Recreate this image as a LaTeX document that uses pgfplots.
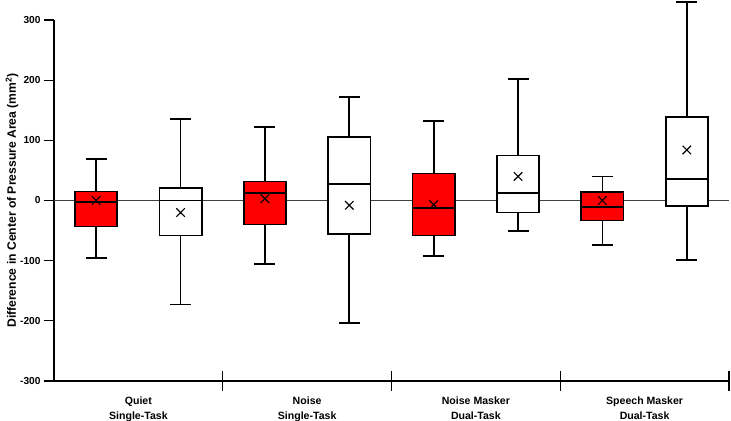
\documentclass[border=0pt]{standalone}
\usepackage{fontspec}
\setmainfont{Liberation Sans}
\usepackage{pgfplots}
\pgfplotsset{compat=1.18}
\usetikzlibrary{calc}

% box: lower quartile to upper quartile; lines: median, whiskers and caps
\pgfplotsset{
  boxst/.style={draw=black,line width=1.7bp},
  linest/.style={black,line width=1.7bp,unbounded coords=jump,mark=none},
}

\begin{document}
\begin{tikzpicture}
\begin{axis}[
  name=a,
  scale only axis,width=675bp,height=361bp,
  xmin=0,xmax=8,ymin=-300,ymax=300,
  clip=false,
  axis x line=bottom,axis y line=left,
  axis line style={-,line width=1.3bp},
  ytick={-300,-200,...,300},
  tick align=outside,major tick length=10bp,
  tick style={black,line width=1.3bp},
  xtick={1,3,5,7},
  xticklabels={Quiet\\Single-Task,Noise\\Single-Task,Noise Masker\\Dual-Task,Speech Masker\\Dual-Task},
  xtick style={draw=none},
  xticklabel style={align=center,font=\bfseries\fontsize{10.6}{15}\selectfont,yshift=-2bp},
  yticklabel style={font=\bfseries\fontsize{10.2}{12}\selectfont},
  /pgf/number format/assume math mode=true,
  ylabel={\bfseries Difference in Center of Pressure Area (mm\textsuperscript{2})},
  ylabel style={font=\fontsize{12.2}{14}\selectfont,at={(axis description cs:0,0.5)},anchor=center,yshift=42bp},
]
\addplot[black!75,line width=1bp,mark=none] coordinates {(0,0) (8,0)};

% Quiet, single-task
\addplot[boxst,fill=red] coordinates {(0.25,-43) (0.75,-43) (0.75,15) (0.25,15)} -- cycle;
\addplot[linest] coordinates {(0.25,-3) (0.75,-3) (nan,nan) (0.5,15) (0.5,69) (nan,nan) (0.375,69) (0.625,69) (nan,nan) (0.5,-43) (0.5,-96) (nan,nan) (0.375,-96) (0.625,-96)};
\addplot[boxst,fill=white] coordinates {(1.25,-58) (1.75,-58) (1.75,20.5) (1.25,20.5)} -- cycle;
\addplot[linest] coordinates {(1.25,0) (1.75,0) (nan,nan) (1.5,20.5) (1.5,136) (nan,nan) (1.375,136) (1.625,136) (nan,nan) (1.5,-58) (1.5,-173) (nan,nan) (1.375,-173) (1.625,-173)};
% Noise, single-task
\addplot[boxst,fill=red] coordinates {(2.25,-40) (2.75,-40) (2.75,31.5) (2.25,31.5)} -- cycle;
\addplot[linest] coordinates {(2.25,13) (2.75,13) (nan,nan) (2.5,31.5) (2.5,122) (nan,nan) (2.375,122) (2.625,122) (nan,nan) (2.5,-40) (2.5,-106) (nan,nan) (2.375,-106) (2.625,-106)};
\addplot[boxst,fill=white] coordinates {(3.25,-56) (3.75,-56) (3.75,106) (3.25,106)} -- cycle;
\addplot[linest] coordinates {(3.25,28) (3.75,28) (nan,nan) (3.5,106) (3.5,172) (nan,nan) (3.375,172) (3.625,172) (nan,nan) (3.5,-56) (3.5,-204) (nan,nan) (3.375,-204) (3.625,-204)};
% Noise masker, dual-task
\addplot[boxst,fill=red] coordinates {(4.25,-58) (4.75,-58) (4.75,45) (4.25,45)} -- cycle;
\addplot[linest] coordinates {(4.25,-13) (4.75,-13) (nan,nan) (4.5,45) (4.5,132) (nan,nan) (4.375,132) (4.625,132) (nan,nan) (4.5,-58) (4.5,-92) (nan,nan) (4.375,-92) (4.625,-92)};
\addplot[boxst,fill=white] coordinates {(5.25,-20) (5.75,-20) (5.75,75) (5.25,75)} -- cycle;
\addplot[linest] coordinates {(5.25,13) (5.75,13) (nan,nan) (5.5,75) (5.5,202) (nan,nan) (5.375,202) (5.625,202) (nan,nan) (5.5,-20) (5.5,-51) (nan,nan) (5.375,-51) (5.625,-51)};
% Speech masker, dual-task
\addplot[boxst,fill=red] coordinates {(6.25,-33) (6.75,-33) (6.75,14.5) (6.25,14.5)} -- cycle;
\addplot[linest] coordinates {(6.25,-11) (6.75,-11) (nan,nan) (6.5,14.5) (6.5,40) (nan,nan) (6.375,40) (6.625,40) (nan,nan) (6.5,-33) (6.5,-74) (nan,nan) (6.375,-74) (6.625,-74)};
\addplot[boxst,fill=white] coordinates {(7.25,-9) (7.75,-9) (7.75,139) (7.25,139)} -- cycle;
\addplot[linest] coordinates {(7.25,35.5) (7.75,35.5) (nan,nan) (7.5,139) (7.5,330) (nan,nan) (7.375,330) (7.625,330) (nan,nan) (7.5,-9) (7.5,-99) (nan,nan) (7.375,-99) (7.625,-99)};

% means
\addplot[only marks,mark=x,mark size=6bp,black,line width=1.1bp] coordinates {
  (0.5,0) (1.5,-20) (2.5,3) (3.5,-8) (4.5,-7) (5.5,40) (6.5,0) (7.5,84)
};

% group separators on the x axis
\addplot[linest,line width=1.3bp] coordinates {(2,-284) (2,-316) (nan,nan) (4,-284) (4,-316) (nan,nan) (6,-284) (6,-316) (nan,nan) (8,-284) (8,-316)};
\end{axis}
\pgfresetboundingbox
\path ($(a.south west)+(-54bp,-40bp)$) rectangle ($(a.south west)+(677bp,381bp)$);
\end{tikzpicture}
\end{document}
